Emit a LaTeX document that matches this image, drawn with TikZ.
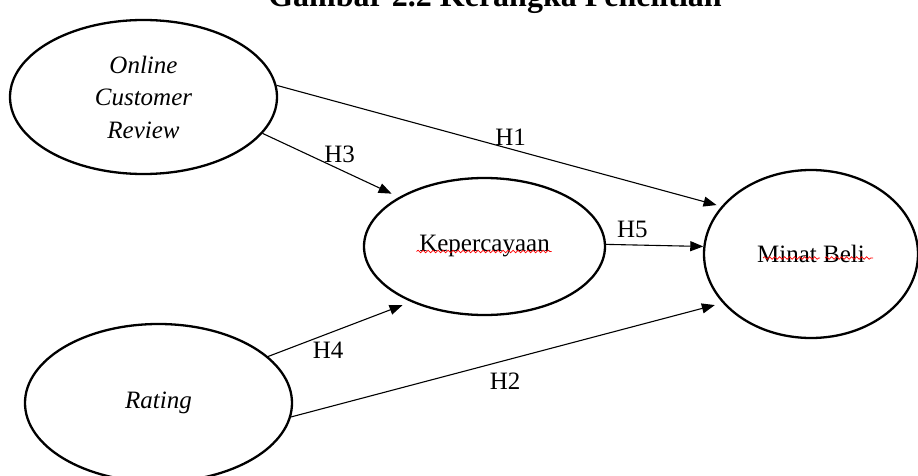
\documentclass[tikz,border=0pt]{standalone}
\usepackage{fontspec}
\setmainfont{Liberation Serif}
\usepackage{tikz}
\usetikzlibrary{shapes.geometric,arrows.meta,decorations.pathmorphing}

\begin{document}
\begin{tikzpicture}[
  x=1pt, y=-1pt,
  var/.style={draw, ellipse, line width=2.3pt, inner sep=0pt, align=center, font=\fontsize{25}{32.5}\selectfont},
  hub/.style={-{Triangle[length=13pt,width=10pt]}, line width=1.1pt},
  lbl/.style={font=\fontsize{25}{30}\selectfont, inner sep=1pt},
  typo/.style={red, line width=0.7pt, decorate, decoration={snake, amplitude=1.3pt, segment length=5pt}}]
  \useasboundingbox (0,0) rectangle (918,476);
  \node[font=\fontsize{32}{38}\selectfont\bfseries, anchor=base] (judul) at (495,7) {Gambar 2.2 Kerangka Penelitian};
  \node[var, minimum width=267pt, minimum height=154pt] (ocr) at (143.5,97) {\itshape Online\\\itshape Customer\\\itshape Review};
  \node[var, minimum width=267pt, minimum height=158pt] (rating) at (158.5,403) {\itshape Rating};
  \node[var, minimum width=241pt, minimum height=137pt] (kep) at (484.5,246.5) {Kepercayaan};
  \node[var, minimum width=214pt, minimum height=168pt] (minat) at (811,254) {Minat Beli};
  \draw[typo] ([shift={(-68,5)}]kep.center) -- ([shift={(67,5)}]kep.center);
  \draw[typo] ([shift={(-48,4)}]minat.center) -- ([shift={(9,4)}]minat.center);
  \draw[typo] ([shift={(14,4)}]minat.center) -- ([shift={(62,4)}]minat.center);
  \draw[hub, shorten >=5pt] (ocr.5) -- node[lbl, above=2pt, pos=0.526] (h1) {H1} (minat.152);
  \draw[hub, shorten >=8pt] (ocr.-17) -- node[lbl, above=5pt, pos=0.565] (h3) {H3} (kep.150);
  \draw[hub] (kep.1) -- node[lbl, above=6pt, pos=0.27] (h5) {H5} (minat.176);
  \draw[hub, shorten >=9pt] (rating.23) -- node[lbl, below=7pt, pos=0.42] (h4) {H4} (kep.217);
  \draw[hub, shorten >=8pt] (rating.-6) -- node[lbl, below=11pt, pos=0.496] (h2) {H2} (minat.209);
\end{tikzpicture}
\end{document}
